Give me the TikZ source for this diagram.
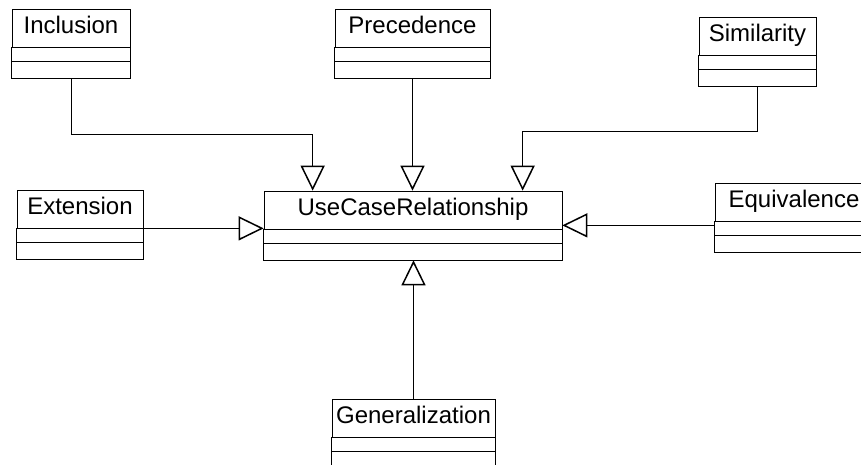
\documentclass[tikz,border=0pt]{standalone}
\usepackage{fontspec}
\setmainfont{Liberation Sans}
\usetikzlibrary{arrows.meta,calc,positioning}

\tikzset{
  classname/.style={draw, line width=0.7pt, minimum height=38pt, inner sep=0pt,
    text height=17pt, text depth=6pt, font=\fontsize{24}{28}\selectfont},
  gen/.style={line width=0.7pt, -{Triangle[open, length=25pt, width=24pt, line width=1.5pt]}},
}

% the two empty compartments under a class name, and the point below them
\newcommand{\classbody}[1]{%
  \draw[line width=0.7pt] (#1.south west) -- ++(0,31) -| (#1.south east);
  \draw[line width=0.7pt] ($(#1.south west)+(0,14)$) -- ($(#1.south east)+(0,14)$);
  \coordinate (#1-b) at ($(#1.south)+(0,31)$);
}

\begin{document}
\begin{tikzpicture}[x=1pt, y=-1pt]
    \clip (0,0) rectangle (861,465);

    % classes
    \node[classname, minimum width=118pt] (inc) at (71,28) {Inclusion};
    \node[classname, minimum width=155pt] (pre) at (412.5,28) {Precedence};
    \node[classname, minimum width=117pt] (sim) at (757.5,36) {Similarity};
    \node[classname, minimum width=126pt] (ext) at (80,209) {Extension};
    \node[classname, minimum width=298pt] (uc) at (413,210) {UseCaseRelationship};
    \node[classname, minimum width=158pt] (equ) at (794,202) {Equivalence};
    \node[classname, minimum width=163pt] (gen) at (413.5,418) {Generalization};
    \foreach \c in {inc,pre,sim,ext,uc,equ,gen} {
        \classbody{\c}
    }

    % where the upper connectors meet the base class
    \coordinate (ucinc) at ($(uc.north west)+(49,0)$);
    \coordinate (ucsim) at ($(uc.north west)+(259,0)$);
    \coordinate (equin) at ($(equ.south west)+(0,4)$);

    % generalizations
    \draw[gen] (inc-b) -- ++(0,56) -| (ucinc);
    \draw[gen] (pre-b) -- (pre-b |- uc.north);
    \draw[gen] (sim-b) -- ++(0,45) -| (ucsim);
    \draw[gen] (ext.south east) -- (ext.south east -| uc.west);
    \draw[gen] (equin) -- (equin -| uc.east);
    \draw[gen] (gen.north) -- (gen.north |- uc-b);
\end{tikzpicture}
\end{document}
